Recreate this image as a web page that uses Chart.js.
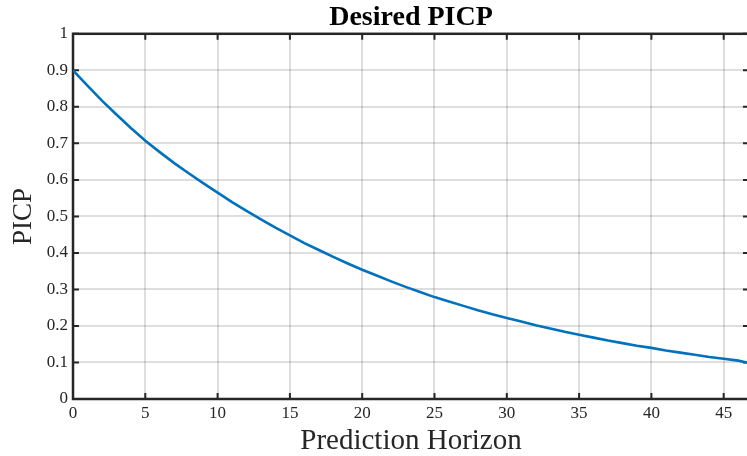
<!DOCTYPE html>
<html>
<head>
<meta charset="utf-8">
<script src="https://cdn.jsdelivr.net/npm/chart.js@4"></script>
<style>
  html, body { margin: 0; padding: 0; background: #fff; overflow: hidden; }
  #wrap { width: 752px; height: 456px; }
</style>
</head>
<body>
<div id="wrap"><canvas id="picpChart"></canvas></div>
<script>
// ── Data ──
const horizon = [0, 1, 2, 3, 4, 5, 6, 7, 8, 9, 10, 11, 12, 13, 14, 15, 16, 17, 18, 19, 20,
    21, 22, 23, 24, 25, 26, 27, 28, 29, 30, 31, 32, 33, 34, 35, 36, 37, 38, 39, 40,
    41, 42, 43, 44, 45, 46, 46.75];
const picp = [0.900, 0.858, 0.817, 0.779, 0.742, 0.707, 0.676, 0.646, 0.618, 0.591, 0.565,
    0.539, 0.515, 0.492, 0.469, 0.448, 0.427, 0.408, 0.389, 0.371, 0.354,
    0.338, 0.322, 0.307, 0.293, 0.279, 0.267, 0.255, 0.243, 0.232, 0.222,
    0.212, 0.202, 0.193, 0.184, 0.176, 0.168, 0.160, 0.153, 0.146, 0.140,
    0.133, 0.127, 0.121, 0.115, 0.110, 0.105, 0.0985];
const xTicks = [0, 5, 10, 15, 20, 25, 30, 35, 40, 45];
const yTicks = [0, 0.1, 0.2, 0.3, 0.4, 0.5, 0.6, 0.7, 0.8, 0.9, 1];

const AXIS_COLOR = '#262626';
const GRID_COLOR = 'rgba(0,0,0,0.13)';
const SERIF = "'Liberation Serif', 'Times New Roman', serif";

// box round the plot + inward ticks (matlab style)
const boxPlugin = {
    id: 'box',
    beforeDatasetsDraw(chart) {
        const { ctx, chartArea: a, scales } = chart;
        ctx.save();
        ctx.strokeStyle = AXIS_COLOR;
        ctx.lineWidth = 2.5;
        ctx.strokeRect(a.left, a.top, a.right - a.left, a.bottom - a.top);
        ctx.lineWidth = 2;
        ctx.beginPath();
        scales.x.ticks.forEach(t => {
            const px = scales.x.getPixelForValue(t.value);
            ctx.moveTo(px, a.bottom); ctx.lineTo(px, a.bottom - 6);
            ctx.moveTo(px, a.top); ctx.lineTo(px, a.top + 6);
        });
        scales.y.ticks.forEach(t => {
            const py = scales.y.getPixelForValue(t.value);
            ctx.moveTo(a.left, py); ctx.lineTo(a.left + 6, py);
            ctx.moveTo(a.right, py); ctx.lineTo(a.right - 6, py);
        });
        ctx.stroke();
        ctx.restore();
    }
};

const ctx = document.getElementById('picpChart').getContext('2d');
new Chart(ctx, {
    type: 'line',
    data: {
        datasets: [{
            label: 'PICP',
            data: horizon.map((h, i) => ({ x: h, y: picp[i] })),
            borderColor: '#0072BD',
            borderWidth: 2.6,
            pointRadius: 0,
            tension: 0,
            fill: false,
        }]
    },
    options: {
        responsive: true,
        maintainAspectRatio: false,
        animation: false,
        layout: { padding: { left: 0, right: 3, top: 0, bottom: 0 } },
        plugins: {
            legend: { display: false },
            tooltip: { enabled: false },
            title: {
                display: true,
                text: 'Desired PICP',
                fullSize: false,
                color: '#000',
                font: { family: SERIF, size: 28, weight: 'bold', lineHeight: 1.1 },
                padding: { top: 2, bottom: 1 },
            }
        },
        scales: {
            x: {
                type: 'linear',
                min: 0,
                max: 46.75,
                afterFit: s => { s.height = 57; },
                afterBuildTicks: s => { s.ticks = xTicks.map(v => ({ value: v })); },
                grid: { color: GRID_COLOR, lineWidth: 2, drawTicks: false },
                border: { display: false },
                ticks: {
                    padding: 4,
                    color: AXIS_COLOR,
                    font: { family: SERIF, size: 17 },
                    maxRotation: 0,
                    callback: v => String(v),
                },
                title: {
                    display: true,
                    text: 'Prediction Horizon',
                    color: AXIS_COLOR,
                    font: { family: SERIF, size: 29, lineHeight: 1 },
                    padding: { top: 0, bottom: 0 },
                }
            },
            y: {
                min: 0,
                max: 1,
                afterFit: s => { s.width = 73; },
                afterBuildTicks: s => { s.ticks = yTicks.map(v => ({ value: v })); },
                grid: { color: GRID_COLOR, lineWidth: 2, drawTicks: false },
                border: { display: false },
                ticks: {
                    padding: 5,
                    color: AXIS_COLOR,
                    font: { family: SERIF, size: 17 },
                    callback: v => String(+v.toFixed(1)),
                },
                title: {
                    display: true,
                    text: 'PICP',
                    color: AXIS_COLOR,
                    font: { family: SERIF, size: 27, lineHeight: 1 },
                    padding: { top: 10, bottom: 0 },
                }
            }
        }
    },
    plugins: [boxPlugin]
});
</script>
</body>
</html>
